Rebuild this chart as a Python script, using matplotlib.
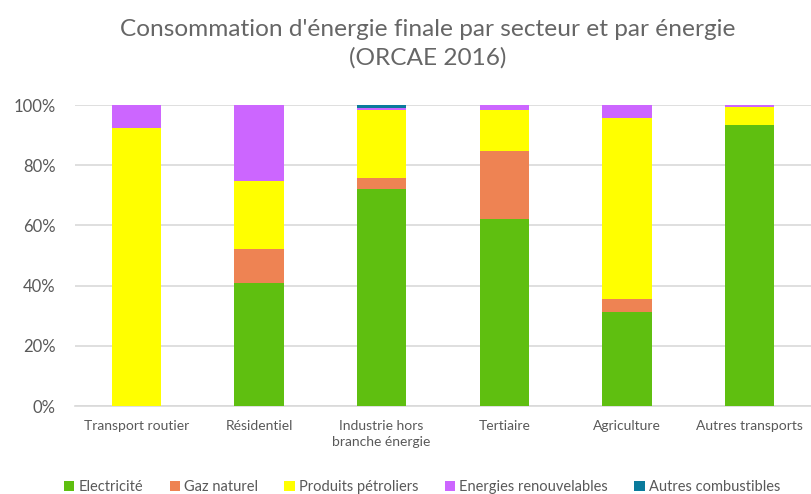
import matplotlib
matplotlib.use("Agg")
import matplotlib.pyplot as plt
import numpy as np

categories = ["Transport routier", "Résidentiel", "Industrie hors\nbranche énergie",
              "Tertiaire", "Agriculture", "Autres transports"]
series_names = ["Electricité", "Gaz naturel", "Produits pétroliers",
                "Energies renouvelables", "Autres combustibles"]
electricite = [0.0, 40.8, 72.1, 62.0, 31.3, 93.4]
gaz_naturel = [0.0, 11.4, 3.8, 22.7, 4.1, 0.0]
produits_petroliers = [92.4, 22.6, 22.4, 13.5, 60.2, 6.0]
energies_renouvelables = [7.6, 25.2, 0.8, 1.8, 4.4, 0.6]
autres_combustibles = [0.0, 0.0, 0.9, 0.0, 0.0, 0.0]
yticks = [0, 20, 40, 60, 80, 100]
ytick_labels = ["0%", "20%", "40%", "60%", "80%", "100%"]
colors = ["#5fbf10", "#ee8353", "#ffff00", "#cc66ff", "#0a7b9c"]

plt.rcParams['font.family'] = ['Lato', 'DejaVu Sans']

fig = plt.figure(figsize=(8.12, 4.94), dpi=100)
ax = fig.add_axes([75/812, 1 - 406/494, (811-75)/812, (406-105)/494])

x = np.arange(len(categories))
bottom = np.zeros(len(categories))
data = [electricite, gaz_naturel, produits_petroliers, energies_renouvelables, autres_combustibles]
for name, vals, c in zip(series_names, data, colors):
    ax.bar(x, vals, 0.4, bottom=bottom, color=c, label=name, zorder=3)
    bottom += np.array(vals)

ax.set_xlim(-0.5, len(categories) - 0.5)
ax.set_ylim(0, 100)
ax.set_yticks(yticks)
ax.set_yticklabels(ytick_labels, fontsize=12, color="#595959")
ax.set_xticks(x)
ax.set_xticklabels(categories, fontsize=10, color="#595959", linespacing=1.4)
ax.tick_params(length=0)
ax.tick_params(axis='y', pad=14)
ax.tick_params(axis='x', pad=10)
ax.grid(axis='y', color="#d9d9d9", linewidth=1.2, zorder=0)
for s in ["top", "right", "left"]:
    ax.spines[s].set_visible(False)
ax.spines["bottom"].set_color("#d9d9d9")
ax.spines["bottom"].set_linewidth(1.2)

fig.text(428/812, 1 - 44/494, "Consommation d'énergie finale par secteur et par énergie\n(ORCAE 2016)",
         ha="center", va="center", fontsize=17.6, color="#666666", linespacing=1.4)

fig.legend(loc="center", bbox_to_anchor=(0.52, 1 - 487/494), ncol=5, frameon=False,
           fontsize=10.5, handlelength=0.7, handleheight=0.7, columnspacing=1.8,
           handletextpad=0.3, labelcolor="#595959")

fig.savefig("out.png", dpi=100)
